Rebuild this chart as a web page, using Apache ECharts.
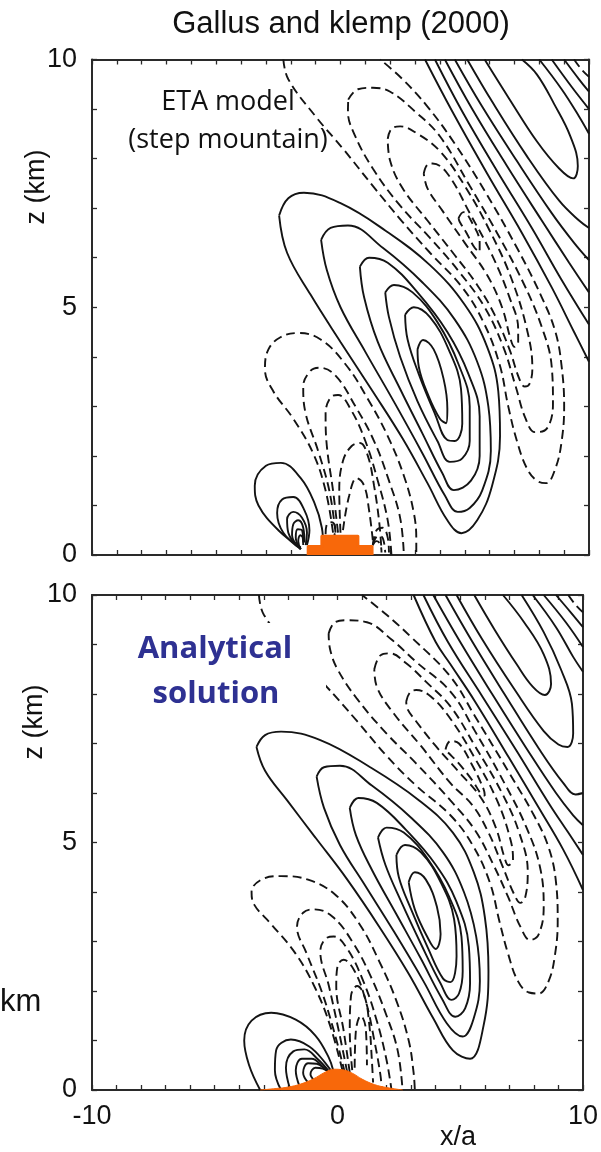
<!DOCTYPE html>
<html><head><meta charset="utf-8">
<script src="https://cdn.jsdelivr.net/npm/echarts@6/dist/echarts.min.js"></script>
<style>html,body{margin:0;padding:0;background:#fff}#c{width:601px;height:1152px}</style>
</head><body><div id="c"></div><script>
// ---- tick labels ----
const xLabelValues = [-10, 0, 10];
const zLabelValues = [0, 5, 10];

// ================= LOWER PANEL (analytical) : points [x/a, z km] =================
// main updraft cell (solid, closed)
const M1 = [[-3.3,6.93],[-2.95,7.17],[-2.3,7.24],[-0.7,7.07],[1.3,6.53],[3.3,5.86],[4.7,5.2],[5.55,4.4],[6.0,3.5],[6.15,2.4],[5.95,1.3],[5.4,0.63],[4.7,0.8],[3.9,1.45],[2.9,2.35],[1.7,3.3],[0.4,4.25],[-0.9,5.1],[-2.05,5.85],[-2.95,6.45]];
const M2 = [[-0.85,6.33],[-0.55,6.52],[0.1,6.55],[1.4,6.15],[3.0,5.5],[4.3,4.8],[5.15,4.0],[5.65,3.1],[5.8,2.2],[5.55,1.45],[5.1,1.08],[4.45,1.35],[3.5,2.2],[2.3,3.2],[1.1,4.15],[0.1,4.95],[-0.55,5.7]];
const M3 = [[0.5,5.7],[0.85,5.9],[1.6,5.8],[2.8,5.25],[4.0,4.55],[4.85,3.8],[5.35,2.9],[5.4,2.15],[5.2,1.65],[4.8,1.48],[4.25,1.85],[3.4,2.65],[2.4,3.55],[1.4,4.45],[0.75,5.15]];
const M4 = [[1.65,5.1],[2.0,5.3],[2.7,5.2],[3.7,4.65],[4.55,3.9],[5.05,3.1],[5.1,2.4],[4.95,1.95],[4.65,1.82],[4.2,2.15],[3.4,2.95],[2.6,3.8],[1.95,4.55]];
const M5 = [[2.4,4.75],[2.75,4.95],[3.4,4.8],[4.2,4.2],[4.75,3.45],[4.85,2.7],[4.6,2.18],[4.3,2.25],[3.7,2.85],[3.0,3.65],[2.5,4.3]];
const M6 = [[2.9,4.2],[3.15,4.4],[3.6,4.25],[4.05,3.7],[4.2,3.15],[4.0,2.85],[3.65,3.1],[3.15,3.65]];
// low-level updraft (solid)
const L1 = [[-3.15,0.0],[-3.6,0.5],[-3.8,1.0],[-3.5,1.4],[-2.7,1.56],[-1.7,1.42],[-0.9,1.1],[-0.35,0.65],[-0.15,0.35],[-0.1,0.2]];
const L2 = [[-2.3,0.0],[-2.55,0.4],[-2.5,0.8],[-1.9,1.02],[-1.15,0.88],[-0.5,0.55],[-0.15,0.3]];
const L3 = [[-1.95,0.05],[-2.1,0.45],[-1.8,0.78],[-1.35,0.82],[-0.8,0.62],[-0.3,0.35],[-0.1,0.2]];
const L4 = [[-1.55,0.08],[-1.7,0.4],[-1.45,0.63],[-1.05,0.63],[-0.6,0.47],[-0.2,0.3]];
const L5 = [[-1.2,0.15],[-1.4,0.35],[-1.2,0.54],[-0.85,0.53],[-0.45,0.4],[-0.15,0.3]];
const L6 = [[-0.95,0.2],[-1.1,0.32],[-0.9,0.45],[-0.6,0.43],[-0.3,0.35]];
// low-level downdraft (dashed)
const DL1 = [[0.2,0.4],[-0.3,1.3],[-0.9,2.05],[-1.7,2.75],[-2.7,3.35],[-3.4,3.75],[-3.5,4.0],[-3.1,4.25],[-2.3,4.32],[-1.2,4.25],[-0.1,3.95],[0.9,3.35],[1.7,2.6],[2.4,1.8],[2.9,1.0],[3.1,0.35],[3.15,0.0]];
const DL2 = [[0.3,0.35],[-0.15,1.2],[-0.65,2.0],[-1.25,2.75],[-1.65,3.3],[-1.4,3.58],[-0.95,3.65],[-0.2,3.5],[0.6,3.0],[1.35,2.3],[2.0,1.5],[2.45,0.8],[2.65,0.0]];
const DL3 = [[0.4,0.35],[0.05,1.2],[-0.35,2.1],[-0.7,2.8],[-0.5,3.05],[-0.15,3.1],[0.4,2.85],[1.05,2.2],[1.6,1.4],[2.0,0.6],[2.2,0.0]];
const DL4 = [[0.5,0.35],[0.25,1.2],[-0.05,2.1],[0.0,2.5],[0.25,2.63],[0.7,2.4],[1.15,1.8],[1.5,1.0],[1.75,0.3],[1.8,0.0]];
const DL5 = [[0.6,0.4],[0.5,1.2],[0.55,1.9],[0.8,2.1],[1.1,1.9],[1.3,1.3],[1.4,0.6],[1.45,0.15]];
const DL6 = [[0.7,0.45],[0.75,1.2],[0.95,1.5],[1.15,1.25],[1.2,0.5]];
// upper downdraft band (dashed)
const D0 = [[-3.2,10],[-3.0,9.6],[-1.8,8.85],[-0.54,8.2],[0.8,7.45],[2.0,6.75],[3.2,6.15],[4.6,5.55],[5.5,4.95],[6.2,4.2],[6.6,3.4],[6.95,2.75],[7.35,2.2],[7.8,1.97],[8.2,1.95],[8.6,2.2],[8.85,2.7],[8.97,3.4],[8.9,4.2],[8.6,4.9],[8.0,5.55],[7.0,6.4],[5.6,7.55],[4.6,8.35],[3.0,9.15],[2.0,9.6],[1.0,10]];
const DU1 = [[-0.36,9.22],[-0.1,9.45],[0.38,9.49],[1.2,9.45],[2.2,9.1],[3.2,8.65],[4.6,8.05],[5.6,7.25],[6.8,6.2],[7.7,5.3],[8.25,4.5],[8.4,3.7],[8.2,3.15],[7.85,3.03],[7.45,3.3],[6.95,3.9],[6.35,4.55],[5.6,5.25],[4.6,5.85],[3.2,6.6],[2.0,7.2],[0.8,7.9],[0.0,8.5],[-0.3,8.9]];
const DU2 = [[1.5,8.5],[1.75,8.78],[2.13,8.82],[2.8,8.62],[3.6,8.25],[4.6,7.75],[5.6,6.95],[6.7,6.0],[7.4,5.2],[7.75,4.4],[7.65,3.9],[7.45,3.78],[7.2,3.95],[6.7,4.55],[6.15,5.2],[5.5,5.75],[4.6,6.2],[3.4,6.95],[2.3,7.6],[1.6,8.15]];
const DU3 = [[2.8,7.85],[2.95,8.03],[3.2,8.08],[3.8,7.95],[4.6,7.5],[5.6,6.7],[6.5,5.85],[7.05,5.05],[7.15,4.65],[6.96,4.54],[6.8,4.7],[6.45,5.3],[5.85,5.9],[4.9,6.45],[4.0,6.95],[3.2,7.45],[2.85,7.7]];
const DU4 = [[4.4,6.88],[4.6,7.05],[4.95,7.0],[5.5,6.55],[5.95,6.08],[6.0,5.95],[5.85,5.98],[5.5,6.25],[4.9,6.62],[4.5,6.82]];
const DR1 = [[9.4,10],[9.7,9.8],[10,9.65]];
// upper updraft band (solid)
const U1 = [[5.57,10],[6.4,9.3],[7.3,8.6],[7.95,8.15],[8.45,7.98],[8.7,8.2],[8.4,8.8],[7.6,9.45],[6.74,10]];
const U2 = [[4.85,10],[5.9,9.1],[7.2,8.1],[8.4,7.25],[9.0,6.98],[9.37,6.93],[9.6,7.2],[9.55,7.8],[9.1,8.5],[8.4,9.25],[7.5,10]];
const U3 = [[4.4,10],[5.5,9.05],[6.8,8.0],[8.2,6.9],[9.2,6.2],[9.7,5.97],[10,6.0]];
const U3r = [[7.95,10],[8.9,9.35],[9.6,8.75],[10,8.45]];
const U4 = [[3.9,10],[5.0,9.05],[6.3,8.0],[7.7,6.9],[8.9,6.0],[9.6,5.55],[10,5.35]];
const U4r = [[8.4,10],[9.3,9.45],[10,8.95]];
const U5 = [[3.5,10],[4.5,9.05],[5.9,7.95],[7.3,6.85],[8.6,5.8],[9.4,5.2],[10,4.75]];
const U5r = [[8.9,10],[9.5,9.65],[10,9.35]];
const U6 = [[3.1,10],[4.0,9.05],[4.6,8.6],[5.6,7.85],[7.0,6.7],[8.2,5.7],[9.2,4.85],[10,4.04]];
const bellMountain = [[-3.15,0],[-2.5,0.03],[-2.0,0.06],[-1.5,0.12],[-1.0,0.22],[-0.5,0.36],[-0.15,0.42],[0.2,0.41],[0.6,0.34],[1.0,0.22],[1.5,0.11],[2.0,0.05],[2.66,0]];

// ================= UPPER PANEL (ETA model) =================
const T_M1 = [[-2.47,6.85],[-2.1,7.2],[-1.47,7.31],[0.0,7.1],[1.8,6.55],[3.6,5.85],[5.0,5.05],[5.9,4.2],[6.35,3.3],[6.42,2.4],[6.1,1.4],[5.5,0.7],[4.87,0.44],[4.3,0.7],[3.5,1.45],[2.5,2.35],[1.3,3.3],[0.0,4.3],[-1.2,5.25],[-2.15,6.1]];
const T_M2 = [[-0.78,6.36],[-0.4,6.6],[0.3,6.65],[1.7,6.2],[3.3,5.5],[4.6,4.75],[5.5,3.9],[5.95,3.0],[6.05,2.1],[5.7,1.3],[5.2,0.95],[4.72,0.87],[4.2,1.2],[3.3,2.05],[2.2,3.05],[1.0,4.1],[0.0,5.0],[-0.55,5.75]];
const T_M3 = [[0.78,5.82],[1.15,6.0],[1.9,5.9],[3.1,5.3],[4.3,4.5],[5.15,3.65],[5.6,2.8],[5.6,2.0],[5.25,1.5],[4.56,1.31],[4.1,1.65],[3.3,2.45],[2.4,3.35],[1.5,4.3],[0.95,5.2]];
const T_M4 = [[1.8,5.3],[2.15,5.45],[2.9,5.3],[3.9,4.7],[4.75,3.85],[5.2,3.0],[5.2,2.3],[4.9,1.95],[4.4,1.88],[3.9,2.3],[3.1,3.1],[2.4,4.0],[1.95,4.8]];
const T_M5 = [[2.6,4.85],[2.95,5.0],[3.6,4.8],[4.35,4.15],[4.85,3.35],[4.9,2.65],[4.6,2.3],[4.3,2.32],[3.8,2.85],[3.15,3.65],[2.7,4.35]];
const T_M6 = [[3.1,4.15],[3.32,4.34],[3.75,4.15],[4.15,3.55],[4.3,2.95],[4.25,2.66],[4.0,2.75],[3.55,3.2],[3.15,3.8]];
const T_L1 = [[-1.6,0.15],[-2.5,0.5],[-3.3,1.0],[-3.45,1.4],[-3.0,1.8],[-2.4,1.86],[-1.6,1.55],[-1.05,1.05],[-0.75,0.55],[-0.7,0.2]];
const T_L2 = [[-1.6,0.12],[-2.3,0.45],[-2.55,0.85],[-2.35,1.12],[-1.9,1.17],[-1.45,0.9],[-1.25,0.5],[-1.35,0.2]];
const T_L3 = [[-1.6,0.12],[-2.1,0.45],[-2.15,0.72],[-1.9,0.87],[-1.55,0.75],[-1.35,0.45],[-1.4,0.2]];
const T_L4 = [[-1.6,0.12],[-1.95,0.4],[-1.9,0.62],[-1.7,0.7],[-1.5,0.55],[-1.45,0.25]];
const T_L5 = [[-1.6,0.12],[-1.8,0.35],[-1.72,0.52],[-1.55,0.5],[-1.5,0.25]];
const T_L6 = [[-1.6,0.12],[-1.7,0.28],[-1.62,0.4],[-1.52,0.35],[-1.5,0.2]];
const T_DL1 = [[-0.3,0.45],[-0.6,1.3],[-1.1,2.05],[-1.9,2.75],[-2.7,3.3],[-3.04,3.75],[-2.9,4.15],[-2.4,4.4],[-1.7,4.48],[-0.8,4.35],[0.2,3.85],[1.1,3.15],[1.9,2.4],[2.55,1.6],[2.95,0.85],[3.05,0.3],[3.05,0.0]];
const T_DL2 = [[-0.2,0.45],[-0.45,1.3],[-0.9,2.1],[-1.4,2.85],[-1.5,3.4],[-1.2,3.72],[-0.86,3.78],[-0.2,3.62],[0.6,3.0],[1.35,2.3],[1.95,1.5],[2.4,0.75],[2.55,0.0]];
const T_DL3 = [[-0.1,0.45],[-0.3,1.3],[-0.55,2.2],[-0.6,2.85],[-0.4,3.18],[-0.1,3.23],[0.4,2.95],[1.0,2.3],[1.5,1.5],[1.9,0.7],[2.05,0.0]];
const T_DL4 = [[0.0,0.45],[-0.05,1.3],[0.1,1.9],[0.45,2.2],[0.78,2.26],[1.1,2.0],[1.35,1.4],[1.55,0.7],[1.65,0.1]];
const T_DL5 = [[0.1,0.5],[0.35,1.2],[0.65,1.55],[0.95,1.4],[1.15,0.9],[1.3,0.3]];
const T_DS1 = [[1.3,0.2],[1.45,0.5],[1.7,0.55],[1.9,0.35],[1.95,0.05]];
const T_DS2 = [[1.3,0.2],[1.5,0.38],[1.68,0.36],[1.8,0.05]];
const T_DS3 = [[1.3,0.2],[1.45,0.28],[1.6,0.22],[1.65,0.05]];
const T_DS4 = [[-0.6,0.42],[-0.55,0.62],[-0.35,0.66],[-0.2,0.5],[-0.25,0.4]];
const T_D0 = [[-2.3,10],[-2.1,9.6],[-1.0,8.85],[0.1,8.2],[1.3,7.45],[2.45,6.75],[3.6,6.1],[4.9,5.4],[5.75,4.7],[6.4,3.85],[6.75,3.0],[7.1,2.3],[7.5,1.75],[7.9,1.5],[8.27,1.45],[8.65,1.75],[8.9,2.3],[9.0,3.0],[8.9,3.8],[8.65,4.5],[8.1,5.2],[7.1,6.2],[5.8,7.35],[4.6,8.3],[3.5,9.05],[2.5,9.6],[1.6,10]];
const T_DU1 = [[0.31,9.19],[0.7,9.4],[1.3,9.43],[2.0,9.35],[3.0,8.95],[4.0,8.45],[5.2,7.45],[6.3,6.5],[7.35,5.5],[8.1,4.6],[8.5,3.8],[8.55,3.05],[8.3,2.55],[7.83,2.48],[7.45,2.75],[7.05,3.4],[6.55,4.2],[5.8,5.0],[4.8,5.7],[3.6,6.4],[2.4,7.05],[1.3,7.8],[0.55,8.5],[0.3,8.95]];
const T_DU2 = [[1.9,8.4],[2.05,8.6],[2.4,8.65],[3.1,8.5],[4.0,8.15],[5.0,7.45],[6.0,6.55],[6.9,5.55],[7.55,4.45],[7.72,3.75],[7.6,3.45],[7.42,3.4],[7.2,3.55],[6.8,4.15],[6.2,4.85],[5.5,5.45],[4.6,6.05],[3.5,6.75],[2.5,7.4],[2.0,7.95]];
const T_DU3 = [[3.35,7.7],[3.5,7.88],[3.7,7.9],[4.3,7.7],[5.2,6.9],[6.1,6.05],[6.8,5.2],[7.15,4.55],[7.15,4.3],[7.0,4.2],[6.85,4.35],[6.5,5.0],[5.9,5.65],[5.0,6.3],[4.1,6.95],[3.5,7.4]];
const T_DU4 = [[4.75,6.8],[4.95,6.92],[5.3,6.7],[5.6,6.3],[5.6,6.12],[5.4,6.2],[5.05,6.52],[4.8,6.72]];
const T_U1 = [[5.8,10],[6.8,9.2],[7.9,8.35],[8.8,7.8],[9.36,7.6],[9.55,7.85],[9.25,8.45],[8.6,9.1],[7.9,9.7],[7.3,10]];
const T_U2 = [[5.1,10],[6.1,9.15],[7.5,8.05],[8.8,7.15],[9.6,6.75],[10,6.6]];
const T_U2r = [[8.0,10],[8.9,9.4],[9.6,8.85],[10,8.5]];
const T_U3 = [[4.6,10],[5.7,9.05],[7.1,7.95],[8.5,6.9],[9.4,6.3],[10,5.95]];
const T_U3r = [[8.5,10],[9.3,9.45],[10,9.0]];
const T_U4 = [[4.2,10],[5.3,9.0],[6.7,7.85],[8.1,6.75],[9.2,5.9],[10,5.3]];
const T_U4r = [[9.0,10],[9.6,9.6],[10,9.35]];
const T_U5 = [[3.8,10],[4.9,8.95],[6.3,7.75],[7.7,6.6],[8.9,5.55],[10,4.65]];
const T_U6 = [[3.4,10],[4.5,8.95],[5.9,7.7],[7.3,6.5],[8.5,5.4],[9.4,4.5],[10,3.9]];
const stepMountain = [[-1.3,0],[-1.3,0.17],[-0.75,0.17],[-0.75,0.38],[0.7,0.38],[0.7,0.17],[1.27,0.17],[1.27,0]];

const panels = [
  { // upper panel
    solidClosed: [T_M1, T_M2, T_M3, T_M4, T_M5, T_M6],
    solidOpen: [T_L1, T_L2, T_L3, T_L4, T_L5, T_L6, T_U1, T_U2, T_U2r, T_U3, T_U3r, T_U4, T_U4r, T_U5, T_U6],
    dashedClosed: [T_DU1, T_DU2, T_DU3, T_DU4],
    dashedOpen: [T_DL1, T_DL2, T_DL3, T_DL4, T_DL5, T_DS1, T_DS2, T_DS3, T_DS4, T_D0, DR1],
    terrain: stepMountain, smoothTerrain: false
  },
  { // lower panel
    solidClosed: [M1, M2, M3, M4, M5, M6],
    solidOpen: [L1, L2, L3, L4, L5, L6, U1, U2, U3, U3r, U4, U4r, U5, U5r, U6],
    dashedClosed: [DU1, DU2, DU3, DU4],
    dashedOpen: [DL1, DL2, DL3, DL4, DL5, DL6, D0, DR1],
    terrain: bellMountain, smoothTerrain: true
  }
];

const chart = echarts.init(document.getElementById('c'), null, {renderer: 'canvas'});
const FONT = '"Liberation Sans", Arial, sans-serif';
const grids = [
  {left: 92, top: 59.5, width: 497, height: 495.5},
  {left: 92, top: 595, width: 497, height: 495}
];
const frameColor = '#2a2a2a';
const INK = '#141414';
const ORANGE = '#F8680A';
const xAxes = [], yAxes = [], series = [];
const frameLine = {show: true, onZero: false, lineStyle: {color: frameColor, width: 2}};
const tick = {show: true, inside: true, length: 5, lineStyle: {color: frameColor, width: 1.3}};
grids.forEach((g, i) => {
  xAxes.push({type: 'value', gridIndex: i, min: -10, max: 10, interval: 1, position: 'bottom',
    axisLine: frameLine, axisTick: tick,
    axisLabel: {show: i === 1, margin: 13, color: '#111', fontSize: 27, fontFamily: FONT,
      formatter: v => xLabelValues.indexOf(v) >= 0 ? String(v) : ''},
    splitLine: {show: false}});
  xAxes.push({type: 'value', gridIndex: i, min: -10, max: 10, interval: 1, position: 'top',
    axisLine: frameLine, axisTick: tick, axisLabel: {show: false}, splitLine: {show: false}});
  yAxes.push({type: 'value', gridIndex: i, min: 0, max: 10, interval: 1, position: 'left',
    axisLine: frameLine, axisTick: tick,
    axisLabel: {show: true, margin: 15, color: '#111', fontSize: 27, fontFamily: FONT,
      formatter: v => zLabelValues.indexOf(v) >= 0 ? String(v) : ''},
    splitLine: {show: false}});
  yAxes.push({type: 'value', gridIndex: i, min: 0, max: 10, interval: 1, position: 'right',
    axisLine: frameLine, axisTick: tick, axisLabel: {show: false}, splitLine: {show: false}});
  const p = panels[i];
  const xi = i * 2, yi = i * 2;
  const add = (arr, closed, dashed) => arr.forEach(c => {
    series.push({type: 'line', xAxisIndex: xi, yAxisIndex: yi, data: closed ? c.concat([c[0]]) : c,
      smooth: 0.4, symbol: 'none', silent: true, animation: false, clip: true, z: 2,
      lineStyle: {color: INK, width: 1.9, type: dashed ? [9, 5] : 'solid', cap: 'butt'}});
  });
  add(p.solidClosed, true, false);
  add(p.solidOpen, false, false);
  add(p.dashedClosed, true, true);
  add(p.dashedOpen, false, true);
  series.push({type: 'line', xAxisIndex: xi, yAxisIndex: yi, data: p.terrain,
    smooth: p.smoothTerrain ? 0.4 : false, symbol: 'none', silent: true, animation: false, z: 5,
    lineStyle: {color: ORANGE, width: p.smoothTerrain ? 1 : 3, join: 'round'},
    areaStyle: {color: ORANGE, opacity: 1}});
});

const mid = {textAlign: 'center', textVerticalAlign: 'middle', verticalAlign: 'middle'};
const graphic = [
  {type: 'text', x: 341, y: 24, style: Object.assign({text: 'Gallus and klemp (2000)', font: '31px ' + FONT, fill: '#111'}, mid)},
  {type: 'text', x: 228, y: 102, style: Object.assign({text: 'ETA model', font: '27px "Open Sans", sans-serif', fill: '#111'}, mid)},
  {type: 'text', x: 228, y: 140, style: Object.assign({text: '(step mountain)', font: '27px "Open Sans", sans-serif', fill: '#111'}, mid)},
  {type: 'rect', shape: {x: 118, y: 623, width: 208, height: 97}, style: {fill: '#ffffff'}, z: 50},
  {type: 'text', x: 215, y: 649, z: 60, style: Object.assign({text: 'Analytical', font: 'bold 31px "Open Sans", sans-serif', fill: '#2E3192'}, mid)},
  {type: 'text', x: 216, y: 694, z: 60, style: Object.assign({text: 'solution', font: 'bold 31px "Open Sans", sans-serif', fill: '#2E3192'}, mid)},
  {type: 'text', x: 37, y: 187, rotation: Math.PI / 2, style: Object.assign({text: 'z (km)', font: '27px ' + FONT, fill: '#111'}, mid)},
  {type: 'text', x: 35, y: 722, rotation: Math.PI / 2, style: Object.assign({text: 'z (km)', font: '27px ' + FONT, fill: '#111'}, mid)},
  {type: 'text', x: 458, y: 1138, style: Object.assign({text: 'x/a', font: '27px ' + FONT, fill: '#111'}, mid)},
  {type: 'text', x: 0, y: 1002, style: {text: 'km', font: '31px ' + FONT, fill: '#111', textAlign: 'left', textVerticalAlign: 'middle', verticalAlign: 'middle'}}
];

chart.setOption({
  backgroundColor: '#ffffff',
  animation: false,
  grid: grids,
  xAxis: xAxes,
  yAxis: yAxes,
  series: series,
  graphic: graphic
});
</script></body></html>
